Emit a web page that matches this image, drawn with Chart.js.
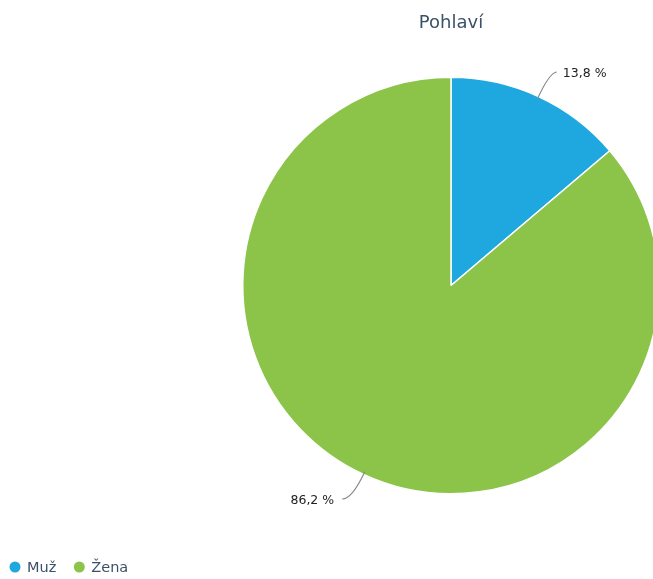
<!DOCTYPE html>
<html>
<head>
<meta charset="utf-8">
<script src="https://cdn.jsdelivr.net/npm/chart.js@4/dist/chart.umd.min.js"></script>
<style>
  html, body { margin: 0; padding: 0; background: #fff; overflow: hidden; }
  #wrap { width: 653px; height: 579px; overflow: hidden; }
</style>
</head>
<body>
<div id="wrap"><canvas id="pieChart" width="680" height="579"></canvas></div>
<script>
// data
const chartTitle = 'Pohlaví';
const labels = ['Muž', 'Žena'];
const values = [13.8, 86.2];
const colors = ['#1fa8e0', '#8bc449'];

const fmt = v => v.toFixed(1).replace('.', ',') + ' %';

// title, leader labels and legend drawn on top of the pie
const extras = {
    id: 'extras',
    afterDraw(chart) {
        const ctx = chart.ctx;
        const area = chart.chartArea;
        ctx.save();

        // title
        ctx.fillStyle = '#3b5266';
        ctx.font = '18px "DejaVu Sans"';
        ctx.textAlign = 'center';
        ctx.textBaseline = 'middle';
        ctx.fillText(chartTitle, (area.left + area.right) / 2, 23);

        // data labels with curved leader lines
        const meta = chart.getDatasetMeta(0);
        meta.data.forEach((arc, i) => {
            const p = arc.getProps(['x', 'y', 'startAngle', 'endAngle', 'outerRadius'], true);
            const mid = (p.startAngle + p.endAngle) / 2;
            const cos = Math.cos(mid), sin = Math.sin(mid);
            const x0 = p.x + cos * (p.outerRadius - 3);
            const y0 = p.y + sin * (p.outerRadius - 3);
            const x1 = p.x + cos * (p.outerRadius + 27);
            const y1 = p.y + sin * (p.outerRadius + 27);
            const right = cos >= 0;
            const x2 = x1 + (right ? 7 : -10);

            ctx.strokeStyle = '#888';
            ctx.lineWidth = 1.2;
            ctx.beginPath();
            ctx.moveTo(x0, y0);
            ctx.quadraticCurveTo(x1, y1, x2, y1);
            ctx.stroke();

            ctx.fillStyle = '#222';
            ctx.font = '12.5px "DejaVu Sans"';
            ctx.textAlign = right ? 'left' : 'right';
            ctx.textBaseline = 'middle';
            ctx.fillText(fmt(values[i]), x2 + (right ? 6 : -8), y1 + 2);
        });

        // legend
        let x = 9;
        const ly = 567;
        ctx.font = '14.5px "DejaVu Sans"';
        ctx.textAlign = 'left';
        ctx.textBaseline = 'middle';
        labels.forEach((lab, i) => {
            ctx.fillStyle = colors[i];
            ctx.beginPath();
            ctx.arc(x + 6, ly, 5.5, 0, Math.PI * 2);
            ctx.fill();
            ctx.fillStyle = '#3b5266';
            ctx.fillText(lab, x + 18, ly + 1);
            x += 18 + ctx.measureText(lab).width + 17;
        });

        ctx.restore();
    }
};

new Chart(document.getElementById('pieChart'), {
    type: 'pie',
    data: {
        labels: labels,
        datasets: [{
            data: values,
            backgroundColor: colors,
            borderColor: '#ffffff',
            borderWidth: 1.5,
            hoverOffset: 0
        }]
    },
    options: {
        responsive: false,
        animation: false,
        layout: { padding: { left: 242, right: 20, top: 75, bottom: 83 } },
        plugins: {
            legend: { display: false },
            title: { display: false },
            tooltip: { enabled: false }
        }
    },
    plugins: [extras]
});
</script>
</body>
</html>
